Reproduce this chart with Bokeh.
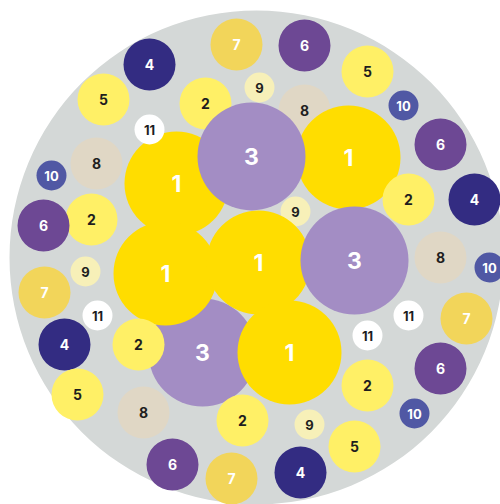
from bokeh.plotting import figure
from bokeh.models import ColumnDataSource, Range1d
from bokeh.core.properties import value
from bokeh.embed import file_html
from bokeh.resources import INLINE

# ---- data: category of every bubble (in drawing order) ----
categories = ["1", "2", "3", "4", "5", "6", "7", "8", "9", "10", "11"]
node_group = ["2", "8", "9",
              "3", "1", "1", "1", "1", "1", "3", "3",
              "2", "2", "2", "2", "2",
              "4", "4", "4", "4",
              "5", "5", "5", "5",
              "6", "6", "6", "6", "6",
              "7", "7", "7", "7",
              "8", "8", "8",
              "9", "9", "9",
              "10", "10", "10", "10",
              "11", "11", "11", "11"]

# ---- layout (bubble centres, relative to the packing centre) ----
layout_x = [-51, 48, 39,
            -54, -80, 92, -91, 2, 33, -5, 98,
            -165, 152, -118, -14, 111,
            -107, 218, -192, 44,
            -153, 111, -179, 98,
            -213, 48, 184, -84, 184,
            -20, -212, -25, 210,
            -160, -113, 184,
            3, -171, 53,
            -205, 147, 233, 158,
            -107, -159, 152, 111]
layout_y = [154, 147, 46,
            -95, 74, 100, -16, -5, -95, 101, -3,
            38, 58, -87, -163, -128,
            193, 58, -87, -215,
            158, 186, -137, -189,
            32, 212, 113, -207, -111,
            213, -35, -221, -61,
            94, -155, 0,
            170, -14, -167,
            82, 152, -10, -156,
            128, -58, -58, -78]

# ---- styles per category ----
radius_of = {"1": 52, "2": 26, "3": 54, "4": 26, "5": 26, "6": 26, "7": 26,
             "8": 26, "9": 15, "10": 15, "11": 15}
fill_of = {"1": "#FFDD00", "2": "#FFF066", "3": "#A38DC4", "4": "#332C82",
           "5": "#FFF066", "6": "#6D4894", "7": "#F2D55A", "8": "#E0D7C5",
           "9": "#F7F0B8", "10": "#5058A4", "11": "#FFFFFF"}
text_of = {"1": "#FFFFFF", "2": "#1E1E1E", "3": "#FFFFFF", "4": "#FFFFFF",
           "5": "#1E1E1E", "6": "#FFFFFF", "7": "#FFFFFF", "8": "#1E1E1E",
           "9": "#1E1E1E", "10": "#FFFFFF", "11": "#1E1E1E"}
fsize_of = {"1": "23px", "3": "23px", "9": "13px", "10": "13px", "11": "13px"}

src = ColumnDataSource(dict(
    x=layout_x, y=layout_y, label=node_group,
    r=[radius_of[g] for g in node_group],
    fill=[fill_of[g] for g in node_group],
    tcol=[text_of[g] for g in node_group],
    fs=[fsize_of.get(g, "14px") for g in node_group],
))

p = figure(width=500, height=504, output_backend="svg", toolbar_location=None,
           x_range=Range1d(-256, 244), y_range=Range1d(-247, 257),
           min_border=0, background_fill_color="white", border_fill_color="white")
p.axis.visible = False
p.grid.visible = False
p.outline_line_color = None

# enclosing circle
p.circle(x=[0], y=[0], radius=247, fill_color="#D4D8D7", line_color=None)

p.circle(x="x", y="y", radius="r", fill_color="fill", line_color=None, source=src)
p.text(x="x", y="y", text="label", text_color="tcol", text_font_size="fs",
       text_font=value("Inter"), text_font_style="bold",
       text_align="center", text_baseline="middle", source=src)

open("out.html", "w").write(file_html(p, INLINE))
